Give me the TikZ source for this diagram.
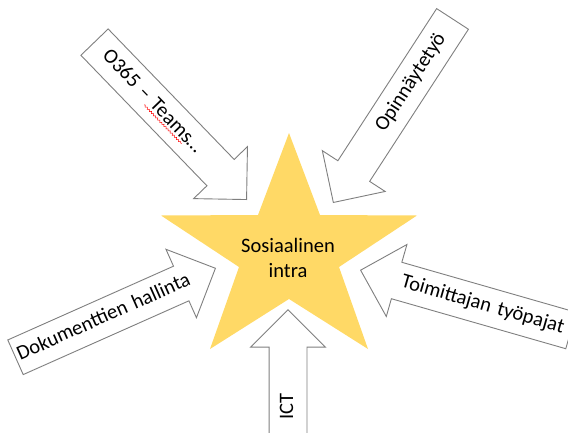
\documentclass[tikz,border=0pt]{standalone}
\usepackage{fontspec}
\setmainfont{Carlito}
\usetikzlibrary{shapes.arrows,decorations.pathmorphing}

\definecolor{stargold}{HTML}{FFD966}
\definecolor{arrowgray}{HTML}{7F7F7F}

\tikzset{
  blockarrow/.style={single arrow, draw=arrowgray, line width=0.9pt, fill=white,
    single arrow head extend=18.5pt, single arrow tip angle=90,
    inner xsep=0pt, inner ysep=9.5pt, text height=14pt, text depth=4pt,
    text width=199pt, align=center, font=\fontsize{20.5}{24}\selectfont},
  backarrow/.style={blockarrow, shape border rotate=180},
  spellwave/.style={red, line width=0.5pt, decorate,
    decoration={snake, amplitude=0.8pt, segment length=3pt}},
}

\begin{document}
\begin{tikzpicture}[x=1pt,y=-1pt]
\useasboundingbox (0,0) rectangle (568,432);
% star
\fill[stargold] (289,133) -- (320,215) -- (417,215.5) -- (339,267) -- (368,349)
  -- (289,299) -- (210,349) -- (239,267) -- (161,215.5) -- (258,215) -- cycle;
\node[font=\fontsize{20.5}{24.6}\selectfont, align=center] (intra) at (288,258) {Sosiaalinen\\intra};
% arrows
\node[blockarrow, rotate=-46, anchor=tip] (teams) at (247,200) {\hspace*{-34pt}O365 – Teams…};
\node[backarrow, rotate=57, anchor=tip] (opin) at (333,203) {\hspace*{48pt}Opinnäytetyö};
\node[blockarrow, rotate=24, anchor=tip] (docs) at (216,268) {\hspace*{-6pt}Dokumenttien hallinta};
\node[backarrow, rotate=-16, anchor=tip] (toim) at (360,270) {\hspace*{16pt}Toimittajan työpajat};
\node[blockarrow, rotate=90, anchor=tip, text width=155pt] (ict) at (288,309) {ICT};
% spell check mark under Teams
\begin{scope}[shift={(teams.tail)}, rotate=-46]
  \draw[spellwave] (80,8) -- (134,8);
\end{scope}
\end{tikzpicture}
\end{document}
